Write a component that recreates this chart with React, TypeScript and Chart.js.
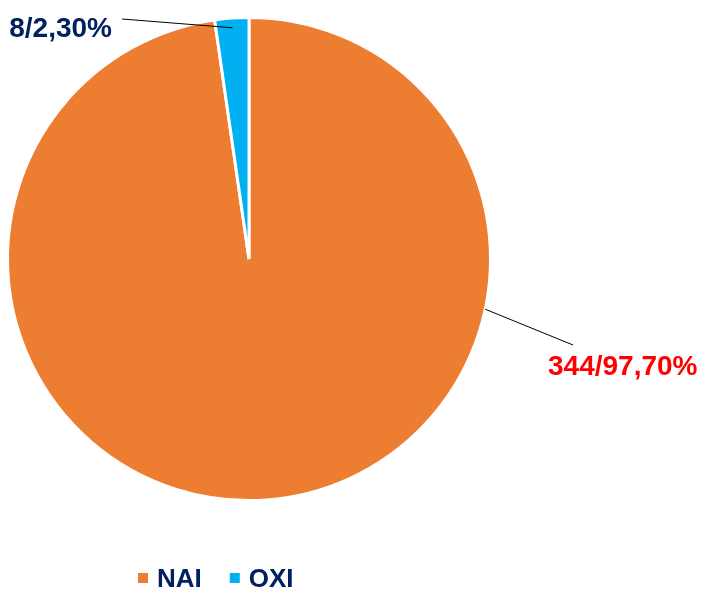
import React, { useEffect, useRef } from "react";
import { Chart, registerables } from "chart.js";

Chart.register(...registerables);

const categories = ["NAI", "OXI"];
const counts = [344, 8];
const percentLabels = ["97,70%", "2,30%"];
const sliceColors = ["#ED7D31", "#00B0F0"];
const labelColors = ["#FF0000", "#002060"];

const FONT = '"Liberation Sans", Arial, sans-serif';

const overlayPlugin = {
  id: "overlay",
  afterDraw(chart: any) {
    const ctx = chart.ctx as CanvasRenderingContext2D;
    const meta = chart.getDatasetMeta(0);
    const nai = meta.data[0] as any;
    const oxi = meta.data[1] as any;
    const cx = nai.x;
    const cy = nai.y;
    const r = nai.outerRadius;
    ctx.save();
    ctx.strokeStyle = "#000000";
    ctx.lineWidth = 1;
    ctx.font = `bold 28px ${FONT}`;
    ctx.textBaseline = "alphabetic";

    // OXI label
    const midO = (oxi.startAngle + oxi.endAngle) / 2;
    const ax = cx + Math.cos(midO) * r * 0.96;
    const ay = cy + Math.sin(midO) * r * 0.96;
    ctx.beginPath();
    ctx.moveTo(ax, ay);
    ctx.lineTo(cx - 127, cy - 240);
    ctx.stroke();
    ctx.fillStyle = labelColors[1];
    ctx.textAlign = "right";
    ctx.fillText(`${counts[1]}/${percentLabels[1]}`, cx - 137, cy - 222);

    // NAI label
    const a = (12 * Math.PI) / 180;
    const bx = cx + Math.cos(a) * r;
    const by = cy + Math.sin(a) * r;
    ctx.beginPath();
    ctx.moveTo(bx, by);
    ctx.lineTo(cx + 324, cy + 86);
    ctx.stroke();
    ctx.fillStyle = labelColors[0];
    ctx.textAlign = "left";
    ctx.fillText(`${counts[0]}/${percentLabels[0]}`, cx + 299, cy + 116);

    // Legend
    ctx.font = `bold 26px ${FONT}`;
    ctx.textAlign = "left";
    let x = 138;
    const boxTop = 573;
    const baseline = 587;
    categories.forEach((c, i) => {
      ctx.fillStyle = sliceColors[i];
      ctx.fillRect(x, boxTop, 10, 10);
      ctx.fillStyle = "#002060";
      ctx.fillText(c, x + 19, baseline);
      x += 19 + ctx.measureText(c).width + 28;
    });
    ctx.restore();
  },
};

export default function App() {
  const ref = useRef<HTMLCanvasElement>(null);
  useEffect(() => {
    if (!ref.current) return;
    const chart = new Chart(ref.current, {
      type: "pie",
      data: {
        labels: categories,
        datasets: [
          {
            data: counts,
            backgroundColor: sliceColors,
            borderColor: "#FFFFFF",
            borderWidth: 3,
          },
        ],
      },
      options: {
        animation: false,
        responsive: false,
        layout: { padding: { left: 6, top: 16, right: 209, bottom: 87 } },
        plugins: {
          legend: { display: false },
          tooltip: { enabled: false },
        },
      },
      plugins: [overlayPlugin],
    });
    return () => chart.destroy();
  }, []);
  return (
    <div style={{ position: "fixed", left: 0, top: 0, width: 701, height: 589, background: "#fff" }}>
      <canvas ref={ref} width={701} height={589} style={{ width: 701, height: 589 }} />
    </div>
  );
}
